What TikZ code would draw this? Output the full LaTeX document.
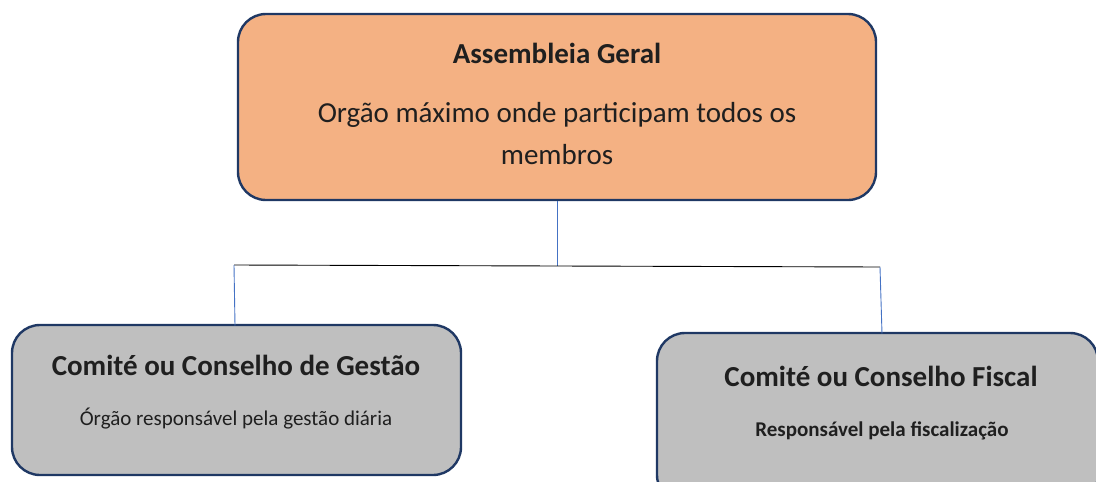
\documentclass[tikz,border=0pt]{standalone}
\usepackage{fontspec}
\setmainfont{Carlito}
\definecolor{boxline}{HTML}{1F3864}
\definecolor{orangefill}{HTML}{F4B183}
\definecolor{grayfill}{HTML}{BFBFBF}
\definecolor{linkblue}{HTML}{4472C4}
\begin{document}
\begin{tikzpicture}[x=1pt,y=-1pt,
    box/.style={draw=boxline,line width=2.4pt,rounded corners=28pt,inner sep=0pt},
    txt/.style={inner sep=0pt,text=black!88,align=center},
    link/.style={draw=linkblue,line width=0.9pt}]
    \useasboundingbox (0,0) rectangle (1096,482);
    \clip (0,0) rectangle (1096,482);
    % boxes
    \node[box,fill=orangefill,minimum width=638pt,minimum height=186pt] (ag) at (557,107) {};
    \node[box,fill=grayfill,minimum width=449pt,minimum height=150pt] (cg) at (236.5,400) {};
    \node[box,fill=grayfill,minimum width=441pt,minimum height=170pt] (cf) at (877.5,418) {};
    % texts
    \node[txt,font=\bfseries\fontsize{29}{34}\selectfont] (agt) at (557,53) {Assembleia Geral};
    \node[txt,font=\fontsize{29}{42}\selectfont] (agd) at (557,134) {Orgão máximo onde participam todos os\\membros};
    \node[txt,font=\bfseries\fontsize{29}{34}\selectfont] (cgt) at (236,365) {Comité ou Conselho de Gestão};
    \node[txt,font=\fontsize{21}{25}\selectfont] (cgd) at (236,419) {Órgão responsável pela gestão diária};
    \node[txt,font=\bfseries\fontsize{29}{34}\selectfont] (cft) at (881,376) {Comité ou Conselho Fiscal};
    \node[txt,font=\bfseries\fontsize{21}{25}\selectfont] (cfd) at (882,431) {Responsável pela fiscalização};
    % connectors
    \coordinate (mid) at (557,266);
    \coordinate (jl) at (234,265);
    \coordinate (jr) at (880,267);
    \draw[link] (ag.south) -- (mid);
    \draw[black,line width=0.9pt] (jl) -- (jr);
    \draw[link] (jl) -- (235,325.5) coordinate (cgn);
    \draw[link] (jr) -- (882,333.5) coordinate (cfn);
\end{tikzpicture}
\end{document}
